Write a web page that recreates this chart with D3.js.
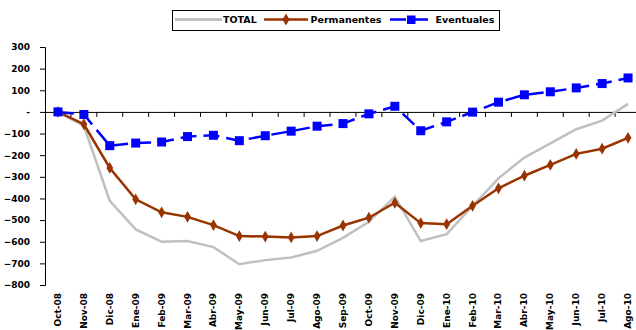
<!DOCTYPE html>
<html><head><meta charset="utf-8">
<script src="https://cdn.jsdelivr.net/npm/d3@7"></script>
<style>
html,body{margin:0;padding:0;background:#fff;overflow:hidden}
text{font-family:"DejaVu Sans",sans-serif;font-weight:bold;fill:#000}
</style></head>
<body><svg id="c" width="636" height="330"></svg>
<script>
const categories = ["Oct-08","Nov-08","Dic-08","Ene-09","Feb-09","Mar-09","Abr-09","May-09","Jun-09","Jul-09","Ago-09","Sep-09","Oct-09","Nov-09","Dic-09","Ene-10","Feb-10","Mar-10","Abr-10","May-10","Jun-10","Jul-10","Ago-10"];
const totalValues = [0,-65,-411,-543,-600,-597,-625,-704,-685,-673,-642,-582,-508,-392,-597,-565,-435,-307,-211,-145,-80,-40,37];
const permValues = [0,-57,-259,-404,-464,-485,-523,-574,-576,-580,-574,-525,-489,-420,-514,-519,-434,-353,-295,-245,-194,-170,-120];
const eventValues = [0,-12,-156,-144,-139,-114,-108,-133,-110,-89,-66,-54,-9,26,-87,-46,-1,45,79,93,111,131,157];
const yTicks = [300,200,100,0,-100,-200,-300,-400,-500,-600,-700,-800];
const seriesNames = ["TOTAL","Permanentes","Eventuales"];

const svg = d3.select("#c");
const x = d3.scaleBand().domain(categories).range([45, 641]);
const y = d3.scaleLinear().domain([-800, 300]).range([285, 47]);
const cx = d => x(d) + x.bandwidth()/2;

// Y axis
const yAxis = svg.append("g").attr("transform","translate(45,0)")
  .call(d3.axisLeft(y).tickValues(yTicks).tickSize(5).tickPadding(10)
    .tickFormat(v => v === 0 ? "-" : d3.format("d")(v)));
yAxis.select(".domain").attr("stroke","#000").attr("stroke-width",1);
yAxis.selectAll(".tick line").attr("stroke","#000");
yAxis.selectAll(".tick text").style("font-size","9px").style("font-family","DejaVu Sans").style("font-weight","bold");

// X axis on zero line
const xAxis = svg.append("g").attr("transform",`translate(0,${y(0)})`)
  .call(d3.axisBottom(x).tickSize(0).tickFormat(""));
xAxis.select(".domain").attr("stroke","#000").attr("stroke-width",1);
xAxis.selectAll(".tick").remove();
// boundary ticks
svg.append("g").selectAll("line").data(categories.slice(1).concat(["__end"]))
  .join("line")
  .attr("x1", (d,i) => x(categories[i]) + x.step())
  .attr("x2", (d,i) => x(categories[i]) + x.step())
  .attr("y1", y(0)).attr("y2", y(0)+5)
  .attr("stroke","#000");

// X labels at bottom
svg.append("g").selectAll("text").data(categories).join("text")
  .attr("transform", d => `translate(${cx(d)+3},293) rotate(-90)`)
  .attr("text-anchor","end")
  .style("font-size","9px")
  .text(d => d);

const line = d3.line().x((d,i) => cx(categories[i])).y(d => y(d));

svg.append("path").datum(totalValues).attr("d", line)
  .attr("fill","none").attr("stroke","#c0c0c0").attr("stroke-width",2.5);

svg.append("path").datum(permValues).attr("d", line)
  .attr("fill","none").attr("stroke","#993300").attr("stroke-width",2.5);
const diamond = d3.symbol().type(d3.symbolDiamond).size(40);
svg.append("g").selectAll("path").data(permValues).join("path")
  .attr("transform",(d,i)=>`translate(${cx(categories[i])},${y(d)})`)
  .attr("d", diamond).attr("fill","#993300");

svg.append("path").datum(eventValues).attr("d", line)
  .attr("fill","none").attr("stroke","#0000ff").attr("stroke-width",2.5)
  .attr("stroke-dasharray","16,7");
svg.append("g").selectAll("rect").data(eventValues).join("rect")
  .attr("x",(d,i)=>cx(categories[i])-4.5).attr("y",d=>y(d)-4.5)
  .attr("width",9).attr("height",9).attr("fill","#0000ff");

// Legend
const lg = svg.append("g");
lg.append("rect").attr("x",172.5).attr("y",10.5).attr("width",327).attr("height",20)
  .attr("fill","#fff").attr("stroke","#000").attr("stroke-width",1);
const ly = 19.5;
lg.append("line").attr("x1",175).attr("x2",222).attr("y1",ly).attr("y2",ly)
  .attr("stroke","#c0c0c0").attr("stroke-width",3);
lg.append("text").attr("x",223).attr("y",ly+3.5).style("font-size","9.5px").text(seriesNames[0]);
lg.append("line").attr("x1",264).attr("x2",308).attr("y1",ly).attr("y2",ly)
  .attr("stroke","#993300").attr("stroke-width",2.5);
lg.append("path").attr("transform",`translate(286,${ly})`).attr("d",diamond).attr("fill","#993300");
lg.append("text").attr("x",310.5).attr("y",ly+3.5).style("font-size","9.5px").text(seriesNames[1]);
lg.append("line").attr("x1",390).attr("x2",433).attr("y1",ly).attr("y2",ly)
  .attr("stroke","#0000ff").attr("stroke-width",2.5).attr("stroke-dasharray","16,6");
lg.append("rect").attr("x",407).attr("y",ly-4).attr("width",8.5).attr("height",8.5).attr("fill","#0000ff");
lg.append("text").attr("x",435.5).attr("y",ly+3.5).style("font-size","9.5px").text(seriesNames[2]);
</script></body></html>
